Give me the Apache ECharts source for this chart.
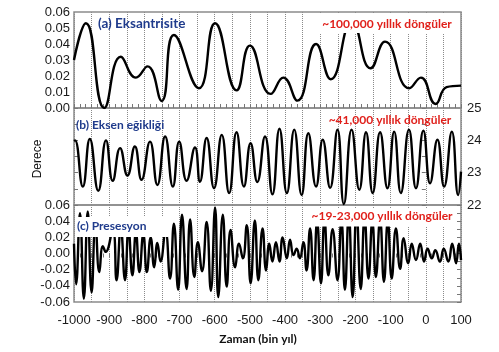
<!DOCTYPE html>
<html><head><meta charset="utf-8">
<script src="https://cdn.jsdelivr.net/npm/echarts@6/dist/echarts.min.js"></script>
<style>html,body{margin:0;padding:0;background:#fff}#c{width:499px;height:352px}</style>
</head><body><div id="c"></div>
<script>
// (a) Eccentricity: turning points (kyr, value)
const eccTime  = [-1000, -966, -914, -867, -824, -791, -751, -716, -645, -599, -538, -500, -441, -405, -365, -312, -270, -210, -157, -116, -47, -14, 28, 59, 100];
const eccValue = [0.030, 0.053, 0.000, 0.032, 0.019, 0.026, 0.0044, 0.0456, 0.0123, 0.053, 0.011, 0.039, 0.0088, 0.019, 0.0046, 0.040, 0.018, 0.054, 0.0248, 0.0415, 0.0123, 0.019, 0.0025, 0.013, 0.014];

// (b) Obliquity (degrees)
const oblTime  = [-1000, -997, -975, -955, -931, -909, -890, -869, -848, -827, -808, -784, -763, -741, -719, -701, -680, -656, -642, -623, -602, -580, -559, -538, -517, -498, -479, -457, -436, -416, -395, -374, -353, -334, -312, -293, -272, -251, -233, -211, -189, -170, -151, -130, -109, -90, -71, -48, -28, -7, 12, 33, 52, 74, 92, 100];
const oblValue = [23.98, 24.00, 22.57, 24.04, 22.44, 24.00, 22.75, 23.76, 22.91, 23.81, 22.78, 23.96, 22.62, 24.12, 22.57, 23.96, 22.75, 23.78, 22.72, 24.07, 22.52, 24.17, 22.37, 24.25, 22.57, 23.91, 22.71, 24.12, 22.33, 24.36, 22.37, 24.33, 22.31, 24.22, 22.57, 24.02, 22.53, 24.33, 22.03, 24.33, 22.47, 24.25, 22.37, 24.25, 22.52, 24.27, 22.37, 24.33, 22.52, 24.30, 22.67, 24.02, 22.57, 24.27, 22.31, 23.03];

// (c) Precession index
const preTime  = [-1000, -994, -983, -972, -961, -950, -939, -928, -918, -910, -890, -879, -867, -855, -845, -834, -824, -814, -803, -793, -782, -772, -763, -754, -740, -727, -716, -704, -693, -680, -670, -658, -648, -636, -623, -611, -599, -590, -577, -566, -555, -542, -531, -520, -509, -498, -486, -476, -464, -454, -445, -436, -426, -416, -407, -395, -386, -376, -367, -358, -348, -339, -329, -319, -309, -298, -288, -277, -265, -251, -240, -230, -219, -208, -197, -185, -174, -163, -152, -142, -130, -119, -108, -97, -85, -73, -63, -50, -40, -28, -16, -5, 5, 17, 27, 40, 51, 64, 75, 86, 94, 100];
const preValue = [0.012, -0.038, 0.050, -0.056, 0.052, -0.048, 0.036, -0.023, 0.009, 0.002, 0.030, -0.033, 0.032, -0.033, 0.030, -0.027, 0.026, -0.023, 0.024, -0.023, 0.020, -0.017, 0.013, -0.010, 0.028, -0.031, 0.037, -0.045, 0.048, -0.044, 0.042, -0.029, 0.014, -0.022, 0.039, -0.046, 0.057, -0.054, 0.048, -0.041, 0.029, -0.017, 0.012, -0.006, 0.035, -0.037, 0.041, -0.033, 0.031, -0.021, 0.012, -0.010, 0.014, -0.010, 0.020, -0.006, 0.017, -0.002, 0.006, -0.006, 0.014, -0.021, 0.031, -0.033, 0.040, -0.037, 0.042, -0.027, 0.030, -0.033, 0.042, -0.045, 0.048, -0.054, 0.052, -0.044, 0.045, -0.031, 0.040, -0.029, 0.042, -0.035, 0.040, -0.031, 0.031, -0.019, 0.019, -0.012, 0.012, -0.008, 0.012, -0.010, 0.006, -0.006, 0.004, -0.010, 0.006, -0.010, 0.012, -0.012, 0.012, -0.008];

const xTickLabels = [-1000, -900, -800, -700, -600, -500, -400, -300, -200, -100, 0, 100];
const oblTickLabels = [22, 23, 24, 25];

const chart = echarts.init(document.getElementById('c'));
const frame = {show: true, borderColor: '#8c8c8c', borderWidth: 1.5, backgroundColor: 'rgba(0,0,0,0)', left: 74, right: 38};
const grayTick = {color: '#777', width: 1};
const split = {show: true, lineStyle: {type: 'dotted', color: '#8a8a8a', width: 1}};
const xBase = {type: 'value', min: -1000, max: 100, interval: 50, axisLine: {show: false}};
const lblFont = {fontFamily: 'Liberation Sans', fontSize: 13, color: '#1a1a1a'};
const lineStyle = {color: '#000', width: 2.4};

chart.setOption({
  animation: false,
  grid: [
    Object.assign({top: 12, height: 96}, frame),
    Object.assign({top: 108, height: 97}, frame),
    Object.assign({top: 205, height: 97}, frame)
  ],
  xAxis: [
    Object.assign({gridIndex: 0, position: 'top', axisTick: {show: true, inside: false, length: 4, lineStyle: grayTick},
      minorTick: {show: true, splitNumber: 3, length: 4, lineStyle: grayTick}, axisLabel: {show: false}, splitLine: split}, xBase),
    Object.assign({gridIndex: 1, axisTick: {show: false}, axisLabel: {show: false}, splitLine: split}, xBase),
    Object.assign({gridIndex: 2, axisTick: {show: true, inside: false, length: 4, lineStyle: grayTick},
      minorTick: {show: true, splitNumber: 3, length: 4, lineStyle: grayTick},
      axisLabel: Object.assign({margin: 12, formatter: v => xTickLabels.includes(v) ? String(v) : ''}, lblFont), splitLine: split}, xBase)
  ],
  yAxis: [
    {gridIndex: 0, type: 'value', min: 0, max: 0.06, interval: 0.01, axisLine: {show: false}, axisTick: {show: false}, splitLine: {show: false},
      axisLabel: Object.assign({margin: 4, formatter: v => v.toFixed(2)}, lblFont)},
    {gridIndex: 1, type: 'value', position: 'right', min: 22, max: 25, interval: 1, axisLine: {show: false},
      axisTick: {show: true, inside: true, length: 4, lineStyle: grayTick}, minorTick: {show: true, splitNumber: 2, length: 4, lineStyle: grayTick},
      splitLine: {show: false}, axisLabel: Object.assign({margin: 6, formatter: v => oblTickLabels.includes(v) ? String(v) : ''}, lblFont)},
    {gridIndex: 1, type: 'value', position: 'left', min: 22, max: 25, interval: 0.5, axisLine: {show: false},
      axisTick: {show: true, inside: true, length: 4, lineStyle: grayTick}, splitLine: {show: false}, axisLabel: {show: false}},
    {gridIndex: 2, type: 'value', min: -0.06, max: 0.06, interval: 0.02, axisLine: {show: false}, axisTick: {show: false}, splitLine: {show: false},
      axisLabel: Object.assign({margin: 4, formatter: v => v.toFixed(2)}, lblFont)},
    {gridIndex: 2, type: 'value', position: 'right', min: -0.06, max: 0.06, interval: 0.01, axisLine: {show: false},
      axisTick: {show: true, inside: true, length: 4, lineStyle: grayTick}, splitLine: {show: false}, axisLabel: {show: false}}
  ],
  series: [
    {type: 'line', xAxisIndex: 0, yAxisIndex: 0, data: eccTime.map((t, i) => [t, eccValue[i]]), smooth: 0.5, showSymbol: false, lineStyle: lineStyle},
    {type: 'line', xAxisIndex: 1, yAxisIndex: 1, data: oblTime.map((t, i) => [t, oblValue[i]]), smooth: 0.5, showSymbol: false, lineStyle: lineStyle},
    {type: 'line', xAxisIndex: 2, yAxisIndex: 3, data: preTime.map((t, i) => [t, preValue[i]]), smooth: 0.5, showSymbol: false, lineStyle: lineStyle}
  ],
  graphic: [
    {type: 'rect', z: 100, shape: {x: 318, y: 14, width: 138, height: 19}, style: {fill: '#fff'}},
    {type: 'rect', z: 100, shape: {x: 75, y: 217, width: 93, height: 20}, style: {fill: '#fff'}},
    {type: 'rect', z: 100, shape: {x: 311, y: 209, width: 145, height: 17.5}, style: {fill: '#fff'}},
    {type: 'text', z: 101, x: 98, y: 24, style: {text: '(a) Eksantrisite', fill: '#1f3b8c', font: 'bold 13.5px Lato', textAlign: 'left', textVerticalAlign: 'middle'}},
    {type: 'text', z: 101, x: 76, y: 125, style: {text: '(b) Eksen eğikliği', fill: '#1f3b8c', font: 'bold 12px Lato', textAlign: 'left', textVerticalAlign: 'middle'}},
    {type: 'text', z: 101, x: 77, y: 226, style: {text: '(c) Presesyon', fill: '#1f3b8c', font: 'bold 12px Lato', textAlign: 'left', textVerticalAlign: 'middle'}},
    {type: 'text', z: 101, x: 387, y: 24, style: {text: '~100,000 yıllık döngüler', fill: '#e0201b', font: 'bold 12px Lato', textAlign: 'center', textVerticalAlign: 'middle'}},
    {type: 'text', z: 101, x: 390, y: 120, style: {text: '~41,000 yıllık döngüler', fill: '#e0201b', font: 'bold 12px Lato', textAlign: 'center', textVerticalAlign: 'middle'}},
    {type: 'text', z: 101, x: 382, y: 216.5, style: {text: '~19-23,000 yıllık döngüler', fill: '#e0201b', font: 'bold 12px Lato', textAlign: 'center', textVerticalAlign: 'middle'}},
    {type: 'text', z: 101, x: 258, y: 339, style: {text: 'Zaman (bin yıl)', fill: '#111', font: 'bold 12px Lato', textAlign: 'center', textVerticalAlign: 'middle'}},
    {type: 'text', z: 101, x: 38, y: 159, rotation: Math.PI / 2, style: {text: 'Derece', fill: '#111', font: '12px "Liberation Sans"', textAlign: 'center', textVerticalAlign: 'middle'}}
  ]
});
</script>
</body></html>
